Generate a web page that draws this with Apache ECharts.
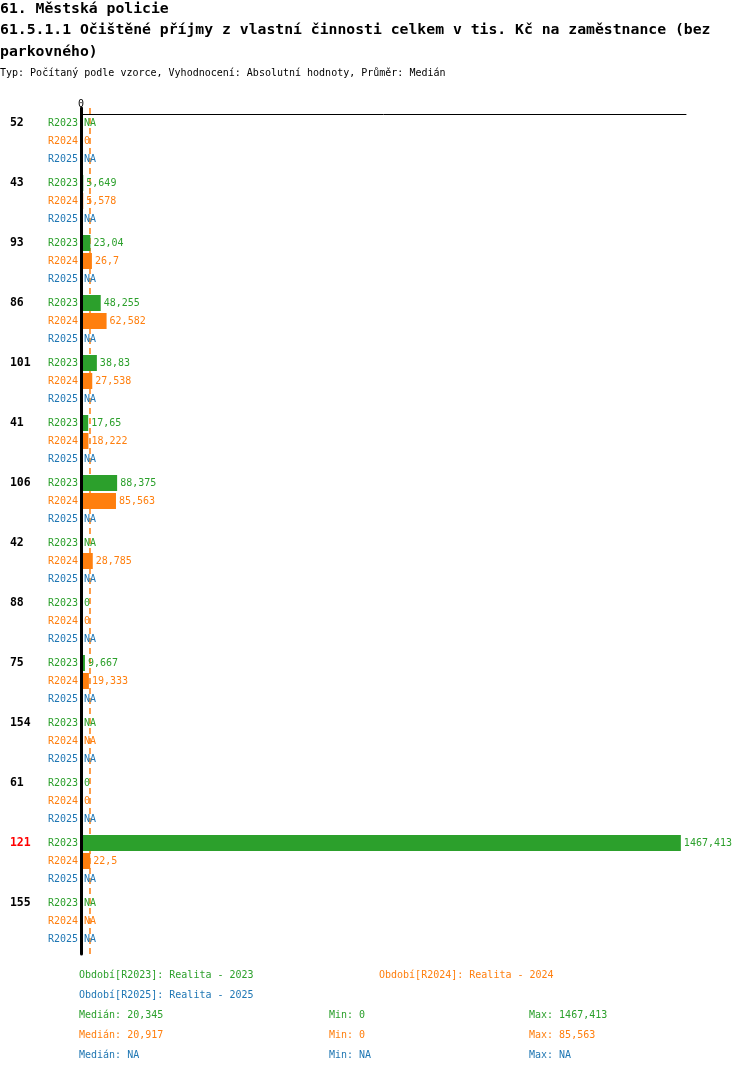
<!DOCTYPE html>
<html>
<head>
<meta charset="utf-8">
<script src="https://cdn.jsdelivr.net/npm/echarts@6/dist/echarts.min.js"></script>
<style>html,body{margin:0;padding:0;background:#fff}#c{width:750px;height:1074px}</style>
</head>
<body>
<div id="c"></div>
<script>
var groups = ['52','43','93','86','101','41','106','42','88','75','154','61','121','155'];
var highlightGroup = '121';
var periods = ['R2023','R2024','R2025'];
var periodNames = ['Období[R2023]: Realita - 2023','Období[R2024]: Realita - 2024','Období[R2025]: Realita - 2025'];
var r2023 = [null, 5.649, 23.04, 48.255, 38.83, 17.65, 88.375, null, 0, 9.667, null, 0, 1467.413, null];
var r2024 = [0, 5.578, 26.7, 62.582, 27.538, 18.222, 85.563, 28.785, 0, 19.333, null, 0, 22.5, null];
var r2025 = [null, null, null, null, null, null, null, null, null, null, null, null, null, null];
var medians = [20.345, 20.917, null];
var mins = [0, 0, null];
var maxs = [1467.413, 85.563, null];
var xTicks = [0];

var colors = ['#2ca02c', '#ff7f0e', '#1f77b4'];
var values = [r2023, r2024, r2025];
var FONT = '"DejaVu Sans Mono", monospace';

function fmt(v) { return v == null ? 'NA' : String(v).replace('.', ','); }

// slot layout: 1 leading slot, then 10 slots per group, rows every 3 slots
var SLOTS_PER_GROUP = 10;
var nSlots = 1 + groups.length * SLOTS_PER_GROUP;
var slotMeta = [];
var cats = [];
for (var k = 0; k < nSlots; k++) { slotMeta.push(null); cats.push('s' + k); }
groups.forEach(function (g, gi) {
  for (var r = 0; r < 3; r++) {
    var k = 2 + gi * SLOTS_PER_GROUP + 3 * r;
    slotMeta[k] = { g: gi, r: r };
  }
});

var series = periods.map(function (p, pi) {
  var data = slotMeta.map(function (m) {
    if (!m || m.r !== pi) return null;
    var v = values[pi][m.g];
    return { value: v == null ? 0 : v, na: v == null };
  });
  return {
    name: p,
    type: 'bar',
    data: data,
    barWidth: 16,
    barGap: '-100%',
    itemStyle: { color: colors[pi] },
    label: {
      show: true, position: 'right', distance: 3,
      color: colors[pi], fontSize: 10, fontFamily: FONT,
      formatter: function (prm) { return prm.data.na ? 'NA' : fmt(prm.data.value); }
    },
    z: 3
  };
});
// median line (drawn beneath the bars)
series.push({
  name: 'median', type: 'line', data: [], z: 1, symbol: 'none',
  markLine: {
    silent: true, symbol: 'none', animation: false, z: 1,
    label: { show: false },
    lineStyle: { color: colors[1], type: [6, 4], width: 1.5 },
    data: [{ xAxis: medians[1] }]
  }
});

var graphics = [];
var titleLines = ['61. Městská policie',
  '61.5.1.1 Očištěné příjmy z vlastní činnosti celkem v tis. Kč na zaměstnance (bez',
  'parkovného)'];
titleLines.forEach(function (t, i) {
  graphics.push({ type: 'text', x: 0, y: 9 + i * 21.5, style: { text: t, font: 'bold 14.75px ' + FONT, fill: '#000', verticalAlign: 'middle' } });
});
graphics.push({ type: 'text', x: 0, y: 73, style: { text: 'Typ: Počítaný podle vzorce, Vyhodnocení: Absolutní hodnoty, Průměr: Medián', font: '10px ' + FONT, fill: '#000', verticalAlign: 'middle' } });

var legendPos = [[79, 975], [379, 975], [79, 995]];
periodNames.forEach(function (t, i) {
  graphics.push({ type: 'text', x: legendPos[i][0], y: legendPos[i][1], style: { text: t, font: '10px ' + FONT, fill: colors[i], verticalAlign: 'middle' } });
});
periods.forEach(function (p, i) {
  var y = 1015 + i * 20;
  graphics.push({ type: 'text', x: 79, y: y, style: { text: 'Medián: ' + fmt(medians[i]), font: '10px ' + FONT, fill: colors[i], verticalAlign: 'middle' } });
  graphics.push({ type: 'text', x: 329, y: y, style: { text: 'Min: ' + fmt(mins[i]), font: '10px ' + FONT, fill: colors[i], verticalAlign: 'middle' } });
  graphics.push({ type: 'text', x: 529, y: y, style: { text: 'Max: ' + fmt(maxs[i]), font: '10px ' + FONT, fill: colors[i], verticalAlign: 'middle' } });
});

var chart = echarts.init(document.getElementById('c'), null, { renderer: 'canvas' });
chart.setOption({
  animation: false,
  backgroundColor: '#fff',
  grid: { left: 81, right: 64, top: 108, height: nSlots * 6, containLabel: false },
  xAxis: {
    type: 'value', position: 'top', min: 0, max: 1480, interval: 1480, offset: -6,
    axisLine: { show: true, lineStyle: { color: '#000', width: 1 } },
    axisTick: { show: false },
    splitLine: { show: false },
    axisLabel: { margin: 5, fontSize: 10, fontFamily: FONT, color: '#000',
      formatter: function (v) { return xTicks.indexOf(v) >= 0 ? String(v) : ''; } }
  },
  yAxis: {
    type: 'category', inverse: true, data: cats, z: 5,
    axisLine: { show: true, lineStyle: { color: '#000', width: 3 } },
    axisTick: { show: false },
    splitLine: { show: false },
    axisLabel: {
      interval: 0, margin: 3, fontSize: 10, fontFamily: FONT, align: 'right',
      formatter: function (v, idx) {
        var m = slotMeta[idx];
        if (!m) return '';
        var pt = '{p' + m.r + '|' + periods[m.r] + '}';
        if (m.r === 0) {
          var g = groups[m.g];
          return '{' + (g === highlightGroup ? 'gr' : 'g') + '|' + g + '}' + pt;
        }
        return pt;
      },
      rich: {
        g: { width: 38, align: 'left', fontWeight: 'bold', fontSize: 11.5, fontFamily: FONT, color: '#000' },
        gr: { width: 38, align: 'left', fontWeight: 'bold', fontSize: 11.5, fontFamily: FONT, color: '#ff0000' },
        p0: { color: colors[0], fontSize: 10, fontFamily: FONT },
        p1: { color: colors[1], fontSize: 10, fontFamily: FONT },
        p2: { color: colors[2], fontSize: 10, fontFamily: FONT }
      }
    }
  },
  series: series,
  graphic: graphics
});
</script>
</body>
</html>
